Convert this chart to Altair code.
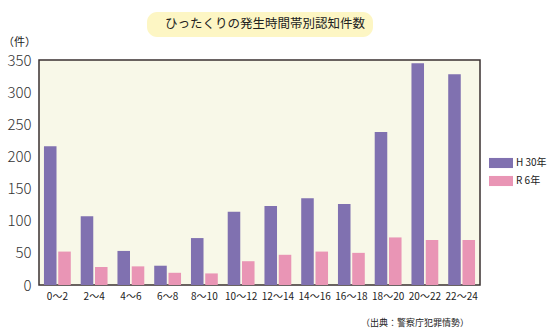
import altair as alt
import pandas as pd

categories = ["0～2", "2～4", "4～6", "6～8", "8～10", "10～12", "12～14",
              "14～16", "16～18", "18～20", "20～22", "22～24"]
series_names = ["H 30年", "R 6年"]
h30 = [216, 107, 53, 30, 73, 114, 123, 135, 126, 238, 345, 328]
r6 = [52, 28, 29, 19, 18, 37, 47, 52, 50, 74, 70, 70]
title_text = "ひったくりの発生時間帯別認知件数"
unit_text = "（件）"
source_text = "（出典：警察庁犯罪情勢）"

rows = []
for i, c in enumerate(categories):
    rows.append({"time": c, "series": series_names[0], "count": h30[i]})
    rows.append({"time": c, "series": series_names[1], "count": r6[i]})
df = pd.DataFrame(rows)

FONT = "Noto Sans CJK JP"

bars = alt.Chart(df).mark_bar().encode(
    x=alt.X("time:N", sort=categories, title=None,
            scale=alt.Scale(paddingInner=0.27, paddingOuter=0.135),
            axis=alt.Axis(labelAngle=0, labelFontSize=10, labelColor="#222",
                          labelPadding=6, ticks=False, domain=False, labelFont=FONT)),
    xOffset=alt.XOffset("series:N", sort=series_names,
                        scale=alt.Scale(paddingInner=0.12)),
    y=alt.Y("count:Q", title=None,
            scale=alt.Scale(domain=[0, 350], nice=False),
            axis=alt.Axis(values=[0, 50, 100, 150, 200, 250, 300, 350],
                          labelFontSize=15, labelColor="#333", labelPadding=8,
                          ticks=False, domain=False, grid=False, labelFont=FONT,
                          labelFontWeight=300)),
    color=alt.Color("series:N", sort=series_names,
                    scale=alt.Scale(domain=series_names, range=["#8071b0", "#e995b5"]),
                    legend=alt.Legend(title=None, orient="none", legendX=450, legendY=91,
                                      symbolType="M-1,-0.42H1V0.42H-1Z", symbolSize=576,
                                      symbolStrokeWidth=0, labelFontSize=10,
                                      labelColor="#222", labelFont=FONT, rowPadding=-8,
                                      labelOffset=3, padding=0)),
)

title_df = pd.DataFrame({"t": [title_text]})
box = alt.Chart(title_df).mark_rect(color="#fdf6c4", cornerRadius=10).encode(
    x=alt.value(108), x2=alt.value(334), y=alt.value(-48), y2=alt.value(-23))
title = alt.Chart(title_df).mark_text(fontSize=12.5, font=FONT, color="#222",
                                      align="center", baseline="middle").encode(
    x=alt.value(226), y=alt.value(-36), text="t:N")
unit = alt.Chart(pd.DataFrame({"t": [unit_text]})).mark_text(
    fontSize=11, font=FONT, color="#222", align="left", baseline="middle").encode(
    x=alt.value(-36), y=alt.value(-17), text="t:N")
source = alt.Chart(pd.DataFrame({"t": [source_text]})).mark_text(
    fontSize=9, font=FONT, color="#222", align="left", baseline="middle").encode(
    x=alt.value(322), y=alt.value(263), text="t:N")

chart = alt.layer(box, title, unit, source, bars).properties(
    width=441, height=225,
    autosize=alt.AutoSizeParams(type="none"),
    padding={"left": 39, "top": 60, "right": 70, "bottom": 49},
    background="white",
).configure_view(fill="#f8f8e8", stroke="#3a3030", strokeWidth=1.5)

chart.save("out.html", embed_options={"renderer": "svg", "actions": False})
